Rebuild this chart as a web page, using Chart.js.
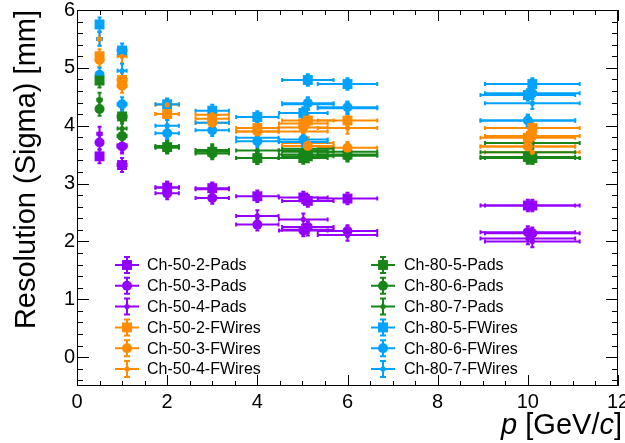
<!DOCTYPE html>
<html>
<head>
<meta charset="utf-8">
<script src="https://cdn.jsdelivr.net/npm/chart.js@4.4.0/dist/chart.umd.min.js"></script>
<style>
  html, body { margin: 0; padding: 0; background: #fff; }
</style>
</head>
<body>
<canvas id="resPlot" width="625" height="443"></canvas>
<script>
// momentum points (GeV/c) and their half-widths
var pVals = [0.5, 1, 2, 3, 4, 5.02, 5.12, 6, 10.0, 10.1];
var pErr = [0.05, 0.1, 0.26, 0.37, 0.47, 0.54, 0.57, 0.66, 1.05, 1.05];
var sigErr = [0.12, 0.12, 0.1, 0.1, 0.1, 0.1, 0.1, 0.1, 0.1, 0.1];

var ch50_2_pads = [3.47, 3.32, 2.93, 2.92, 2.78, 2.76, 2.70, 2.74, 2.62, 2.62];
var ch50_3_pads = [3.71, 3.64, 2.83, 2.75, 2.29, 2.19, 2.25, 2.18, 2.16, 2.14];
var ch50_4_pads = [3.86, 3.66, 2.93, 2.90, 2.44, 2.38, 2.20, 2.11, 2.05, 2.00];
var ch50_2_fw = [5.20, 4.79, 4.20, 4.12, 3.96, 4.04, 4.09, 4.09, 3.79, 3.96];
var ch50_3_fw = [5.14, 4.69, 4.20, 4.05, 3.90, 3.97, 3.65, 3.62, 3.64, 3.82];
var ch50_4_fw = [5.50, 5.20, 4.36, 4.19, 3.90, 3.90, 3.70, 3.96, 3.64, 3.54];
var ch80_5_pads = [4.78, 4.16, 3.63, 3.55, 3.44, 3.44, 3.47, 3.50, 3.46, 3.44];
var ch80_6_pads = [4.29, 3.82, 3.62, 3.52, 3.44, 3.50, 3.55, 3.48, 3.44, 3.44];
var ch80_7_pads = [4.45, 3.95, 3.65, 3.58, 3.57, 3.57, 3.60, 3.55, 3.54, 3.70];
var ch80_5_fw = [5.75, 5.30, 4.37, 4.26, 4.15, 4.22, 4.79, 4.72, 4.53, 4.72];
var ch80_6_fw = [4.88, 4.37, 3.87, 3.92, 3.73, 3.76, 4.39, 4.32, 4.09, 4.56];
var ch80_7_fw = [5.50, 4.95, 4.00, 4.05, 3.79, 3.72, 4.37, 4.30, 4.09, 4.39];

var xTicks = [0, 2, 4, 6, 8, 10, 12];
var yTicks = [0, 1, 2, 3, 4, 5, 6];

var purple = '#9300ff', orange = '#ff8c00', green = '#178517', blue = '#00a2ff';
var FONT = "'Liberation Sans', Arial, sans-serif";

function pts(vals) {
    return vals.map(function (v, i) {
        return { x: pVals[i], y: v, ex: pErr[i], ey: sigErr[i] };
    });
}

function series(label, vals, color, style) {
    var r = style === 'rect' ? 7 : (style === 'small' ? 2.6 : 5);
    return {
        label: label,
        data: pts(vals),
        backgroundColor: color,
        borderColor: color,
        borderWidth: 0,
        pointStyle: style === 'small' ? 'circle' : style,
        pointRadius: r,
        pointHoverRadius: r,
        showLine: false
    };
}

// error bars, drawn through the scales
var errorBars = {
    id: 'errorBars',
    beforeDatasetsDraw: function (chart) {
        var ctx = chart.ctx, xs = chart.scales.x, ys = chart.scales.y;
        ctx.save();
        ctx.lineWidth = 2;
        chart.data.datasets.forEach(function (ds) {
            ctx.strokeStyle = ds.borderColor;
            ds.data.forEach(function (pt) {
                var px = xs.getPixelForValue(pt.x), py = ys.getPixelForValue(pt.y);
                var x0 = xs.getPixelForValue(pt.x - pt.ex), x1 = xs.getPixelForValue(pt.x + pt.ex);
                var y0 = ys.getPixelForValue(pt.y - pt.ey), y1 = ys.getPixelForValue(pt.y + pt.ey);
                ctx.beginPath();
                ctx.moveTo(x0, py); ctx.lineTo(x1, py);
                ctx.moveTo(px, y0); ctx.lineTo(px, y1);
                ctx.moveTo(x0, py - 2); ctx.lineTo(x0, py + 2);
                ctx.moveTo(x1, py - 2); ctx.lineTo(x1, py + 2);
                ctx.moveTo(px - 2, y0); ctx.lineTo(px + 2, y0);
                ctx.moveTo(px - 2, y1); ctx.lineTo(px + 2, y1);
                ctx.stroke();
            });
        });
        ctx.restore();
    }
};

// ROOT-like frame with inward ticks, legend and x title
var frame = {
    id: 'frame',
    afterDraw: function (chart) {
        var ctx = chart.ctx, a = chart.chartArea;
        var xs = chart.scales.x, ys = chart.scales.y;
        ctx.save();
        ctx.strokeStyle = '#000';
        ctx.lineWidth = 1;
        ctx.strokeRect(a.left + 0.5, a.top + 0.5, a.right - a.left - 1, a.bottom - a.top - 1);
        ctx.beginPath();
        for (var v = 0; v <= 12.001; v += 0.5) {
            var px = Math.round(xs.getPixelForValue(v)) + 0.5;
            var len = (v % 2 === 0) ? 11 : 5;
            ctx.moveTo(px, a.bottom); ctx.lineTo(px, a.bottom - len);
            ctx.moveTo(px, a.top); ctx.lineTo(px, a.top + len);
        }
        for (var w = -0.4; w <= 6.001; w += 0.2) {
            var yv = Math.round(w * 10) / 10;
            var py = Math.round(ys.getPixelForValue(yv)) + 0.5;
            var l2 = (Math.abs(yv - Math.round(yv)) < 1e-6) ? 12 : 6;
            ctx.moveTo(a.left, py); ctx.lineTo(a.left + l2, py);
            ctx.moveTo(a.right, py); ctx.lineTo(a.right - l2, py);
        }
        ctx.stroke();

        // legend
        ctx.font = '16px ' + FONT;
        ctx.textBaseline = 'middle';
        ctx.textAlign = 'left';
        chart.data.datasets.forEach(function (ds, i) {
            var col = i < 6 ? 0 : 1, row = i % 6;
            var mx = col ? 383 : 127, tx = col ? 404 : 147;
            var my = 265 + row * 20.8;
            ctx.strokeStyle = ds.borderColor;
            ctx.fillStyle = ds.backgroundColor;
            ctx.lineWidth = 2;
            ctx.beginPath();
            ctx.moveTo(mx - 12, my); ctx.lineTo(mx + 12, my);
            ctx.moveTo(mx, my - 8); ctx.lineTo(mx, my + 8);
            ctx.moveTo(mx - 3, my + 8); ctx.lineTo(mx + 3, my + 8);
            ctx.moveTo(mx - 3, my - 8); ctx.lineTo(mx + 3, my - 8);
            ctx.stroke();
            Chart.helpers.drawPoint(ctx, {
                pointStyle: ds.pointStyle, radius: ds.pointRadius, rotation: 0, borderWidth: 0
            }, mx, my);
            ctx.fillStyle = '#000';
            ctx.fillText(ds.label, tx, my + 1);
        });

        // x axis title with italic p and c
        var parts = [['p', true], [' [GeV/', false], ['c', true], [']', false]];
        var total = 0;
        parts.forEach(function (p) {
            ctx.font = (p[1] ? 'italic ' : '') + '29px ' + FONT;
            total += ctx.measureText(p[0]).width;
        });
        var cx = 622 - total;
        ctx.fillStyle = '#000';
        ctx.textBaseline = 'alphabetic';
        parts.forEach(function (p) {
            ctx.font = (p[1] ? 'italic ' : '') + '29px ' + FONT;
            ctx.fillText(p[0], cx, 434);
            cx += ctx.measureText(p[0]).width;
        });
        ctx.restore();
    }
};

var ctx = document.getElementById('resPlot').getContext('2d');
var chartRes = new Chart(ctx, {
    type: 'scatter',
    data: {
        datasets: [
            series('Ch-50-2-Pads', ch50_2_pads, purple, 'rect'),
            series('Ch-50-3-Pads', ch50_3_pads, purple, 'circle'),
            series('Ch-50-4-Pads', ch50_4_pads, purple, 'small'),
            series('Ch-50-2-FWires', ch50_2_fw, orange, 'rect'),
            series('Ch-50-3-FWires', ch50_3_fw, orange, 'circle'),
            series('Ch-50-4-FWires', ch50_4_fw, orange, 'small'),
            series('Ch-80-5-Pads', ch80_5_pads, green, 'rect'),
            series('Ch-80-6-Pads', ch80_6_pads, green, 'circle'),
            series('Ch-80-7-Pads', ch80_7_pads, green, 'small'),
            series('Ch-80-5-FWires', ch80_5_fw, blue, 'rect'),
            series('Ch-80-6-FWires', ch80_6_fw, blue, 'circle'),
            series('Ch-80-7-FWires', ch80_7_fw, blue, 'small')
        ]
    },
    options: {
        responsive: false,
        animation: false,
        devicePixelRatio: 1,
        layout: { padding: { top: 10, right: 7, left: 0, bottom: 0 } },
        scales: {
            x: {
                type: 'linear',
                min: 0,
                max: 12,
                grid: { display: false, drawTicks: false },
                border: { display: false },
                afterBuildTicks: function (scale) {
                    scale.ticks = xTicks.map(function (v) { return { value: v }; });
                },
                afterFit: function (scale) {
                    scale.height = 57;
                    scale.paddingLeft = 0;
                    scale.paddingRight = 0;
                },
                ticks: {
                    autoSkip: false,
                    maxRotation: 0,
                    padding: 4,
                    color: '#000',
                    font: { family: FONT, size: 20 }
                }
            },
            y: {
                type: 'linear',
                min: -0.5,
                max: 6,
                grid: { display: false, drawTicks: false },
                border: { display: false },
                afterBuildTicks: function (scale) {
                    scale.ticks = yTicks.map(function (v) { return { value: v }; });
                },
                afterFit: function (scale) {
                    scale.width = 77;
                    scale.paddingTop = 0;
                    scale.paddingBottom = 0;
                },
                title: {
                    display: true,
                    text: 'Resolution (Sigma) [mm]',
                    align: 'end',
                    color: '#000',
                    padding: { top: 10, bottom: 0 },
                    font: { family: FONT, size: 29 }
                },
                ticks: {
                    autoSkip: false,
                    padding: 2,
                    color: '#000',
                    font: { family: FONT, size: 20 }
                }
            }
        },
        plugins: {
            legend: { display: false },
            tooltip: { enabled: false }
        }
    },
    plugins: [errorBars, frame]
});
</script>
</body>
</html>
